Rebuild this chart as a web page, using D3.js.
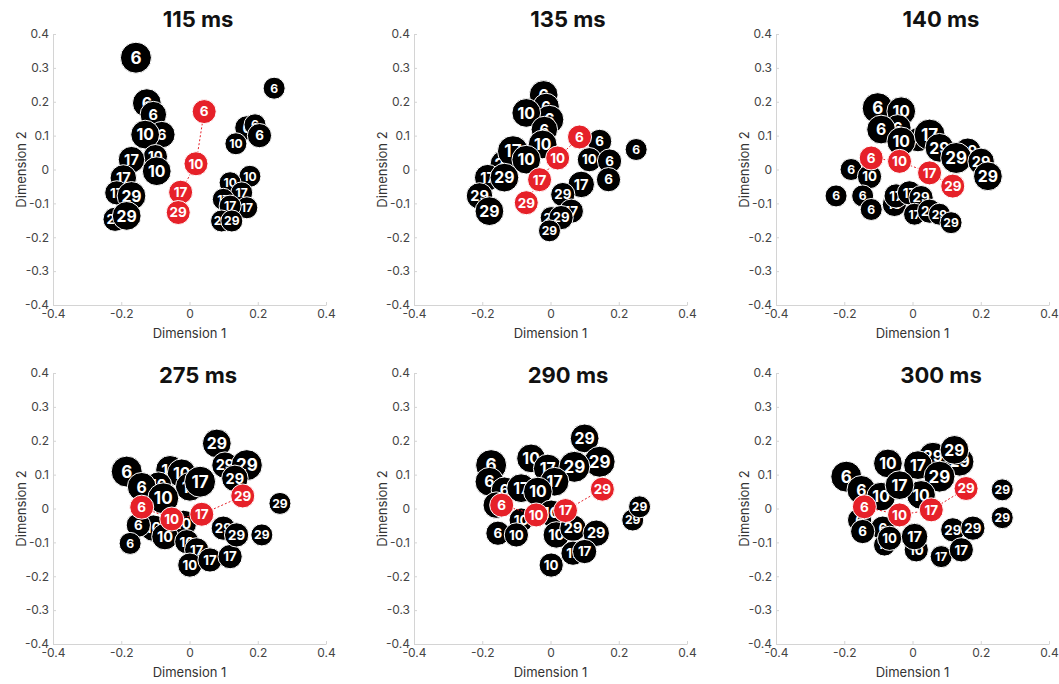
<!DOCTYPE html>
<html>
<head>
<meta charset="utf-8">
<script src="https://cdn.jsdelivr.net/npm/d3@7"></script>
<style>
  body { margin: 0; background: #fff; }
  svg { display: block; font-family: Inter, "Noto Sans", sans-serif; }
</style>
</head>
<body>
<div id="chart"></div>
<script>
// panel titles
const titles = ["115 ms", "135 ms", "140 ms", "275 ms", "290 ms", "300 ms"];
const xTicks = [-0.4, -0.2, 0, 0.2, 0.4];
const yTicks = [-0.4, -0.3, -0.2, -0.1, 0, 0.1, 0.2, 0.3, 0.4];

// black points per panel: [dim1, dim2, label, weight]
const black115 = [
  [-0.157, 0.33, "6", 5], [0.248, 0.24, "6", 1],
  [-0.125, 0.196, "6", 4], [-0.106, 0.162, "6", 3], [-0.081, 0.103, "6", 3],
  [-0.13, 0.103, "10", 4], [-0.10, 0.038, "10", 2], [-0.17, 0.029, "17", 3],
  [-0.096, -0.005, "10", 4], [-0.194, -0.025, "17", 3], [-0.213, -0.069, "17", 2],
  [-0.17, -0.078, "29", 4], [-0.218, -0.147, "29", 2], [-0.184, -0.137, "29", 4],
  [0.168, 0.123, "6", 2], [0.192, 0.132, "6", 1], [0.205, 0.1, "6", 2],
  [0.136, 0.076, "10", 1], [0.177, -0.02, "10", 1], [0.119, -0.039, "10", 1],
  [0.153, -0.069, "17", 1], [0.099, -0.088, "17", 1], [0.168, -0.113, "17", 1],
  [0.119, -0.108, "17", 1], [0.094, -0.152, "29", 1], [0.124, -0.152, "29", 1]
];
const black135 = [
  [-0.02, 0.22, "6", 4], [-0.013, 0.186, "6", 3], [-0.003, 0.147, "6", 4],
  [-0.071, 0.167, "10", 4], [-0.018, 0.118, "6", 3], [-0.023, 0.074, "10", 4],
  [-0.135, 0.015, "29", 4], [-0.11, 0.054, "17", 5], [-0.071, 0.029, "10", 4],
  [-0.184, -0.024, "17", 3], [-0.135, -0.024, "29", 4], [-0.208, -0.078, "29", 3],
  [-0.179, -0.123, "29", 4], [0.144, 0.083, "6", 2], [0.114, 0.029, "10", 2],
  [0.173, 0.025, "6", 2], [0.251, 0.059, "6", 1], [0.17, -0.03, "6", 2],
  [0.09, -0.044, "17", 3], [0.036, -0.074, "29", 2], [0.061, -0.123, "17", 2],
  [0.002, -0.142, "29", 1], [0.031, -0.142, "29", 2], [-0.003, -0.181, "29", 1]
];
const black140 = [
  [-0.102, 0.181, "6", 5], [-0.033, 0.172, "10", 4], [-0.043, 0.123, "6", 3],
  [-0.092, 0.118, "6", 4], [0.016, 0.088, "10", 2], [-0.033, 0.083, "10", 4],
  [0.05, 0.103, "17", 5], [0.079, 0.064, "29", 4], [0.162, 0.054, "29", 3],
  [0.128, 0.034, "29", 5], [0.201, 0.024, "29", 3], [0.221, -0.02, "29", 4],
  [-0.18, 0, "6", 1], [-0.126, -0.021, "10", 2], [-0.224, -0.078, "6", 1],
  [-0.146, -0.078, "6", 1], [-0.121, -0.118, "6", 1], [-0.053, -0.103, "10", 2],
  [-0.048, -0.078, "17", 2], [-0.009, -0.069, "17", 2], [0.025, -0.083, "29", 2],
  [0.006, -0.132, "17", 1], [0.05, -0.123, "29", 2], [0.079, -0.132, "29", 1],
  [0.113, -0.157, "29", 1]
];
const black275 = [
  [0.08, 0.192, "29", 4], [0.104, 0.128, "29", 3], [0.168, 0.128, "29", 5],
  [0.133, 0.089, "29", 3], [-0.184, 0.109, "6", 5], [-0.057, 0.114, "10", 4],
  [-0.023, 0.104, "10", 4], [-0.091, 0.069, "10", 3], [0.001, 0.064, "17", 4],
  [0.031, 0.079, "17", 5], [-0.14, 0.064, "6", 4], [-0.077, 0.03, "10", 5],
  [-0.018, -0.044, "10", 3], [-0.106, -0.058, "10", 3], [-0.15, -0.049, "6", 2],
  [-0.072, -0.083, "10", 3], [-0.008, -0.098, "10", 2], [0.021, -0.122, "17", 2],
  [-0.174, -0.103, "6", 1], [0.001, -0.167, "10", 2], [0.06, -0.152, "17", 2],
  [0.119, -0.142, "17", 2], [0.099, -0.058, "29", 2], [0.138, -0.078, "29", 2],
  [0.212, -0.078, "29", 1], [0.265, 0.015, "29", 1]
];
const black290 = [
  [0.1, 0.207, "29", 4], [0.144, 0.138, "29", 5], [-0.057, 0.148, "10", 4],
  [-0.008, 0.118, "17", 4], [0.07, 0.123, "29", 5], [-0.174, 0.128, "6", 5],
  [-0.179, 0.079, "6", 4], [0.012, 0.079, "17", 4], [-0.135, 0.054, "6", 3],
  [-0.086, 0.06, "17", 4], [-0.037, 0.05, "10", 4], [-0.159, 0.01, "6", 3],
  [0.002, -0.014, "10", 3], [-0.086, -0.034, "10", 2], [-0.154, -0.073, "6", 2],
  [-0.1, -0.078, "10", 2], [0.017, -0.078, "10", 3], [0.066, -0.058, "29", 3],
  [0.134, -0.073, "29", 3], [0.066, -0.132, "17", 2], [0.1, -0.127, "17", 2],
  [0.002, -0.167, "10", 2], [0.241, -0.034, "29", 1], [0.261, 0.005, "29", 1]
];
const black300 = [
  [0.06, 0.153, "29", 4], [0.138, 0.138, "29", 4], [0.123, 0.173, "29", 4],
  [0.016, 0.128, "17", 4], [-0.072, 0.133, "10", 4], [0.079, 0.094, "29", 5],
  [-0.194, 0.094, "6", 5], [-0.15, 0.055, "6", 4], [0.025, 0.04, "10", 4],
  [-0.092, 0.035, "10", 4], [-0.038, 0.069, "17", 4], [-0.155, -0.034, "6", 2],
  [-0.087, -0.058, "6", 2], [-0.146, -0.068, "6", 2], [-0.082, -0.108, "10", 1],
  [-0.067, -0.088, "10", 2], [0.011, -0.122, "10", 2], [0.006, -0.083, "17", 3],
  [0.118, -0.063, "29", 2], [0.177, -0.058, "29", 2], [0.084, -0.142, "17", 1],
  [0.143, -0.122, "17", 2], [0.263, 0.055, "29", 1], [0.263, -0.027, "29", 1]
];

// red (average) points per panel: [dim1, dim2, label]
const red115 = [[0.043, 0.171, "6"], [0.019, 0.017, "10"], [-0.026, -0.067, "17"], [-0.033, -0.127, "29"]];
const red135 = [[0.085, 0.096, "6"], [0.021, 0.034, "10"], [-0.032, -0.03, "17"], [-0.071, -0.098, "29"]];
const red140 = [[-0.121, 0.034, "6"], [-0.038, 0.024, "10"], [0.05, -0.01, "17"], [0.118, -0.049, "29"]];
const red275 = [[-0.14, 0.004, "6"], [-0.052, -0.031, "10"], [0.036, -0.017, "17"], [0.156, 0.037, "29"]];
const red290 = [[-0.143, 0.01, "6"], [-0.042, -0.019, "10"], [0.044, -0.006, "17"], [0.152, 0.057, "29"]];
const red300 = [[-0.141, 0.005, "6"], [-0.038, -0.019, "10"], [0.055, -0.004, "17"], [0.157, 0.059, "29"]];

const blacks = [black115, black135, black140, black275, black290, black300];
const reds = [red115, red135, red140, red275, red290, red300];

const width = 1059, height = 684;
const colX = [53, 414, 776];
const rowY = [34, 373];
const pw = 273, ph = 271;
const titleDx = [145, 154, 165];
const red = "#e62129";

const svg = d3.select("#chart").append("svg")
  .attr("width", width)
  .attr("height", height);

const rScale = d3.scaleLinear().domain([1, 5]).range([11, 15.5]);
const fmt = d => d === 0 ? "0" : d.toFixed(1);

titles.forEach((title, i) => {
  const col = i % 3, row = Math.floor(i / 3);
  const g = svg.append("g")
    .attr("transform", `translate(${colX[col]},${rowY[row]})`);

  const x = d3.scaleLinear().domain([-0.4, 0.4]).range([0, pw]);
  const y = d3.scaleLinear().domain([-0.4, 0.4]).range([ph, 0]);

  // axes
  const ax = g.append("g")
    .attr("transform", `translate(0,${ph})`)
    .call(d3.axisBottom(x).tickValues(xTicks).tickFormat(fmt).tickSize(-3).tickSizeOuter(0).tickPadding(4));
  const ay = g.append("g")
    .call(d3.axisLeft(y).tickValues(yTicks).tickFormat(fmt).tickSize(-3).tickSizeOuter(0).tickPadding(4));
  [ax, ay].forEach(a => {
    a.select(".domain").attr("stroke", "#d4d4d4");
    a.selectAll(".tick line").attr("stroke", "#d4d4d4");
    a.selectAll(".tick text")
      .attr("fill", "#444")
      .style("font-size", "12px")
      .style("font-family", "Inter, sans-serif");
  });

  g.append("text")
    .attr("x", pw / 2)
    .attr("y", ph + 33)
    .attr("text-anchor", "middle")
    .attr("fill", "#333")
    .style("font-size", "13px")
    .text("Dimension 1");

  g.append("text")
    .attr("transform", `translate(-27,${ph / 2}) rotate(-90)`)
    .attr("text-anchor", "middle")
    .attr("fill", "#333")
    .style("font-size", "13px")
    .text("Dimension 2");

  // title
  g.append("text")
    .attr("x", titleDx[col])
    .attr("y", row === 0 ? -7 : 10)
    .attr("text-anchor", "middle")
    .attr("fill", "#111")
    .style("font-size", "22px")
    .style("font-weight", "700")
    .text(title);

  // black points
  const pts = g.selectAll(".pt")
    .data(blacks[i])
    .enter()
    .append("g")
    .attr("class", "pt")
    .attr("transform", d => `translate(${x(d[0])},${y(d[1])})`);

  pts.append("circle")
    .attr("r", d => rScale(d[3]))
    .attr("fill", "#000")
    .attr("stroke", "#fff")
    .attr("stroke-width", 1);

  pts.append("text")
    .attr("text-anchor", "middle")
    .attr("dy", "0.36em")
    .attr("fill", "#fff")
    .style("font-weight", "700")
    .style("font-size", d => (rScale(d[3]) * 1.1) + "px")
    .text(d => d[2]);

  // red dashed path linking the averages
  g.append("path")
    .datum(reds[i])
    .attr("d", d3.line().x(d => x(d[0])).y(d => y(d[1])))
    .attr("fill", "none")
    .attr("stroke", red)
    .attr("stroke-width", 1)
    .attr("stroke-dasharray", "2,2");

  const rp = g.selectAll(".rp")
    .data(reds[i])
    .enter()
    .append("g")
    .attr("class", "rp")
    .attr("transform", d => `translate(${x(d[0])},${y(d[1])})`);

  rp.append("circle")
    .attr("r", 12)
    .attr("fill", red)
    .attr("stroke", "#fff")
    .attr("stroke-width", 1);

  rp.append("text")
    .attr("text-anchor", "middle")
    .attr("dy", "0.36em")
    .attr("fill", "#fff")
    .style("font-weight", "700")
    .style("font-size", "13.5px")
    .text(d => d[2]);
});
</script>
</body>
</html>
